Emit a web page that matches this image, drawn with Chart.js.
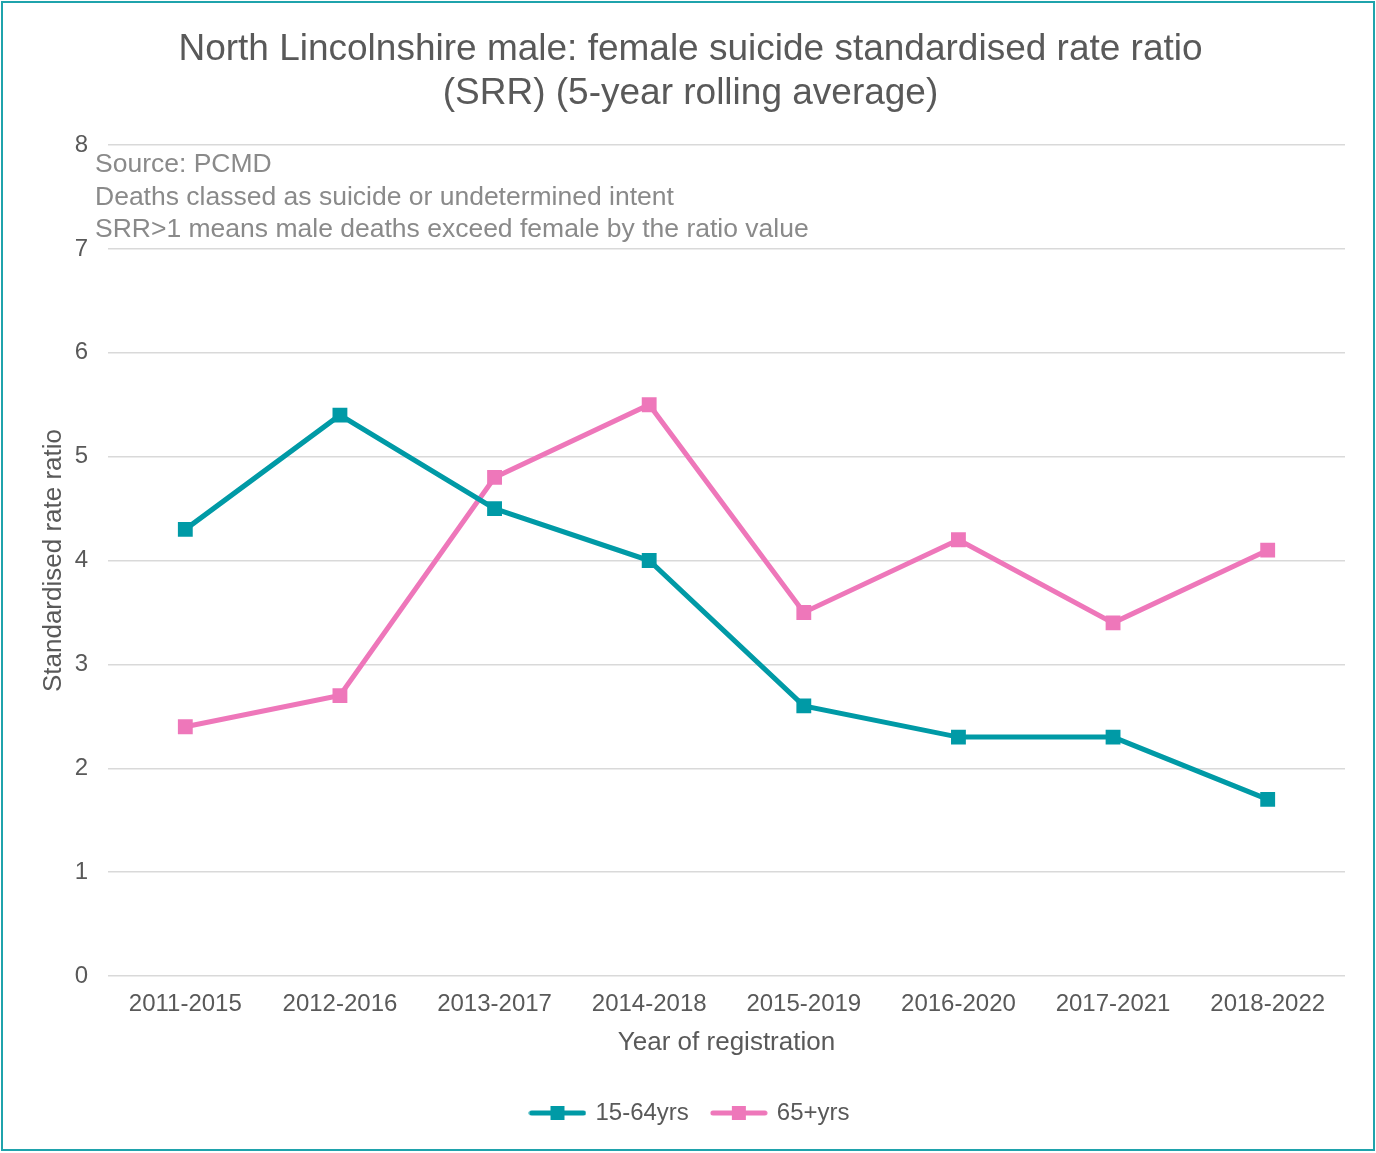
<!DOCTYPE html>
<html><head><meta charset="utf-8">
<script src="https://cdn.jsdelivr.net/npm/chart.js@4/dist/chart.umd.min.js"></script>
<style>html,body{margin:0;padding:0;background:#fff;}#wrap{width:1376px;height:1153px;position:relative;}</style>
</head><body><div id="wrap"><canvas id="c" width="1376" height="1153"></canvas></div>
<script>
const categories = ['2011-2015','2012-2016','2013-2017','2014-2018','2015-2019','2016-2020','2017-2021','2018-2022'];
const ages15to64 = [4.3, 5.4, 4.5, 4.0, 2.6, 2.3, 2.3, 1.7];
const ages65plus = [2.4, 2.7, 4.8, 5.5, 3.5, 4.2, 3.4, 4.1];
const seriesNames = ['15-64yrs', '65+yrs'];
const titleLines = ['North Lincolnshire male: female suicide standardised rate ratio', '(SRR) (5-year rolling average)'];
const noteLines = ['Source: PCMD', 'Deaths classed as suicide or undetermined intent', 'SRR>1 means male deaths exceed female by the ratio value'];

const TEAL = '#009AA6';
const PINK = '#EE77BA';
const FONT = '"Liberation Sans", Arial, sans-serif';

function legendIcon(color) {
  const cv = document.createElement('canvas');
  cv.width = 58; cv.height = 16;
  const g = cv.getContext('2d');
  g.strokeStyle = color; g.lineWidth = 5; g.lineCap = 'round';
  g.beginPath(); g.moveTo(3, 8); g.lineTo(55, 8); g.stroke();
  g.fillStyle = color; g.fillRect(22, 1, 14, 14);
  return cv;
}

const extras = {
  id: 'extras',
  afterDraw(chart) {
    const ctx = chart.ctx;
    const a = chart.chartArea;
    ctx.save();
    ctx.font = '26.5px ' + FONT;
    ctx.fillStyle = '#8A8A8A';
    ctx.textAlign = 'left';
    ctx.textBaseline = 'middle';
    noteLines.forEach((t, i) => ctx.fillText(t, a.left - 13, a.top + 20 + i * 32.5));
    ctx.strokeStyle = '#1FA3AC';
    ctx.lineWidth = 2;
    ctx.strokeRect(2, 2, 1372, 1148);
    ctx.restore();
  }
};

new Chart(document.getElementById('c'), {
  type: 'line',
  data: {
    labels: categories,
    datasets: [
      { label: seriesNames[0], data: ages15to64, borderColor: TEAL, backgroundColor: TEAL, borderWidth: 5,
        pointStyle: 'rect', pointRadius: 10.5, pointHoverRadius: 10.5, pointBorderWidth: 0, pointBackgroundColor: TEAL },
      { label: seriesNames[1], data: ages65plus, borderColor: PINK, backgroundColor: PINK, borderWidth: 5,
        pointStyle: 'rect', pointRadius: 10.5, pointHoverRadius: 10.5, pointBorderWidth: 0, pointBackgroundColor: PINK }
    ]
  },
  options: {
    responsive: false,
    animation: false,
    layout: { padding: { top: 28, left: 36, right: 31, bottom: 18 } },
    plugins: {
      title: { display: true, text: titleLines, color: '#595959', font: { family: FONT, size: 37, weight: 'normal', lineHeight: 1.19 }, padding: { top: 0, bottom: 29 } },
      legend: {
        position: 'bottom',
        labels: {
          color: '#595959', font: { family: FONT, size: 24 },
          usePointStyle: true, pointStyleWidth: 52, boxHeight: 16, padding: 24,
          generateLabels(chart) {
            return chart.data.datasets.map((d, i) => ({
              text: d.label, pointStyle: legendIcon(d.borderColor), fillStyle: d.borderColor,
              strokeStyle: d.borderColor, lineWidth: 0, hidden: false, datasetIndex: i, fontColor: '#595959'
            }));
          }
        }
      },
      tooltip: { enabled: false }
    },
    scales: {
      x: {
        offset: true,
        grid: { display: false },
        border: { display: false },
        ticks: { color: '#595959', font: { family: FONT, size: 24 }, padding: 6 },
        title: { display: true, text: 'Year of registration', color: '#595959', font: { family: FONT, size: 26 }, padding: { top: 2, bottom: 19 } }
      },
      y: {
        min: 0, max: 8,
        afterFit(scale) { scale.width = 108 - 36; },
        ticks: { stepSize: 1, color: '#595959', font: { family: FONT, size: 24 }, padding: 20 },
        grid: { color: '#D9D9D9', lineWidth: 1.5, drawTicks: false },
        border: { display: false },
        title: { display: true, text: 'Standardised rate ratio', color: '#595959', font: { family: FONT, size: 26 }, padding: { top: 2, bottom: 7 } }
      }
    }
  },
  plugins: [extras]
});
</script></body></html>
